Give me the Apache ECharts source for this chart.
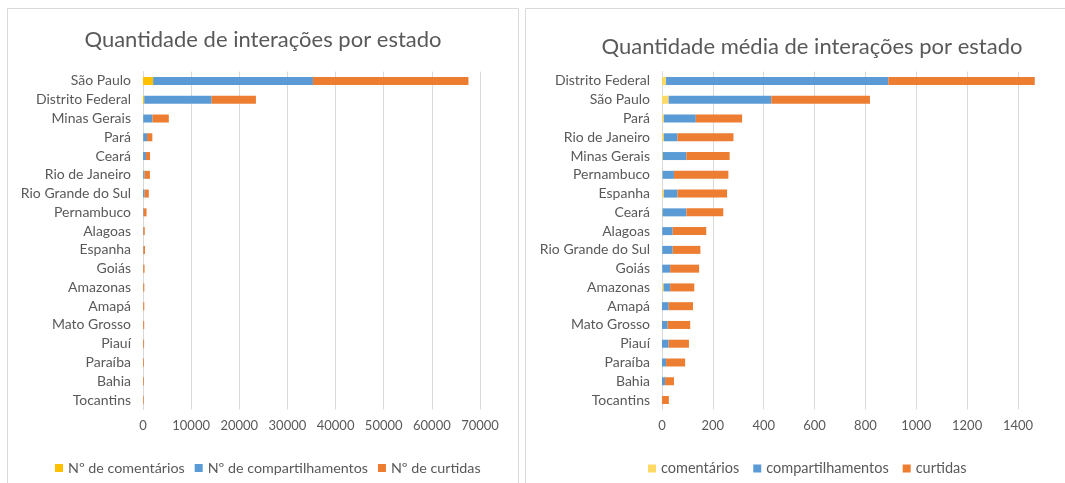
<!DOCTYPE html>
<html><head><meta charset="utf-8">
<script src="https://cdn.jsdelivr.net/npm/echarts@6/dist/echarts.min.js"></script>
<style>html,body{margin:0;padding:0;background:#fff}#c{width:1065px;height:483px}</style>
</head><body><div id="c"></div>
<script>
// Left chart: total interactions per state
const statesTotal = ['São Paulo','Distrito Federal','Minas Gerais','Pará','Ceará','Rio de Janeiro','Rio Grande do Sul','Pernambuco','Alagoas','Espanha','Goiás','Amazonas','Amapá','Mato Grosso','Piauí','Paraíba','Bahia','Tocantins'];
const totalComentarios = [2100, 260, 60, 40, 15, 35, 8, 5, 2, 10, 2, 12, 0, 0, 0, 0, 0, 0];
const totalCompartilhamentos = [33200, 14000, 1900, 800, 600, 300, 330, 130, 82, 80, 70, 55, 55, 50, 55, 35, 50, 0];
const totalCurtidas = [32300, 9200, 3400, 1100, 850, 1100, 870, 600, 280, 320, 250, 210, 215, 200, 175, 170, 150, 140];
const totalTicks = [0, 10000, 20000, 30000, 40000, 50000, 60000, 70000];

// Right chart: average interactions per state
const statesMedia = ['Distrito Federal','São Paulo','Pará','Rio de Janeiro','Minas Gerais','Pernambuco','Espanha','Ceará','Alagoas','Rio Grande do Sul','Goiás','Amazonas','Amapá','Mato Grosso','Piauí','Paraíba','Bahia','Tocantins'];
const mediaComentarios = [16, 26, 7, 7, 3, 2, 7, 2, 1, 1, 1, 6, 0, 0, 0, 0, 0, 0];
const mediaCompartilhamentos = [874, 404, 126, 54, 93, 45, 54, 94, 41, 41, 31, 26, 26, 22, 26, 16, 12, 0];
const mediaCurtidas = [576, 388, 182, 220, 170, 214, 195, 145, 132, 109, 114, 95, 96, 89, 80, 75, 35, 27];
const mediaTicks = [0, 200, 400, 600, 800, 1000, 1200, 1400];

const FONT = 'Lato';
const TXT = '#595959';
const GRID = '#d9d9d9';

function catAxis(idx, data) {
  return {
    type: 'category', gridIndex: idx, data: data, inverse: true,
    axisLine: {show: true, lineStyle: {color: GRID}},
    axisTick: {show: false},
    axisLabel: {color: TXT, fontFamily: FONT, fontSize: 14, margin: 12}
  };
}
function valAxis(idx, max, interval, showMax) {
  return {
    type: 'value', gridIndex: idx, min: 0, max: max, interval: interval,
    axisLine: {show: false}, axisTick: {show: false},
    splitLine: {show: true, showMaxLine: showMax, lineStyle: {color: GRID, width: 1}},
    axisLabel: {color: TXT, fontFamily: FONT, fontSize: 13, margin: 10, showMaxLabel: showMax,
      formatter: function (v) { return String(v); }}
  };
}
function bar(name, idx, data, color) {
  return {
    type: 'bar', name: name, xAxisIndex: idx, yAxisIndex: idx, stack: 's' + idx,
    data: data, barWidth: 8, itemStyle: {color: color}, silent: true
  };
}

const chart = echarts.init(document.getElementById('c'), null, {renderer: 'canvas'});
chart.setOption({
  animation: false,
  backgroundColor: '#fff',
  graphic: [
    {type: 'rect', shape: {x: 7.5, y: 8.5, width: 511, height: 490}, style: {fill: 'none', stroke: GRID, lineWidth: 1}, z: -10},
    {type: 'rect', shape: {x: 525.5, y: 8.5, width: 600, height: 490}, style: {fill: 'none', stroke: GRID, lineWidth: 1}, z: -10}
  ],
  title: [
    {text: 'Quantidade de interações por estado', left: 258, top: 24, textAlign: 'center',
     textStyle: {color: TXT, fontFamily: FONT, fontSize: 22, fontWeight: 'normal'}},
    {text: 'Quantidade média de interações por estado', left: 807, top: 31, textAlign: 'center',
     textStyle: {color: TXT, fontFamily: FONT, fontSize: 22, fontWeight: 'normal'}}
  ],
  legend: [
    {left: 50, top: 456, itemWidth: 8, itemHeight: 8, itemGap: 10, icon: 'rect',
     textStyle: {color: TXT, fontFamily: FONT, fontSize: 14.3},
     data: ['Nº de comentários', 'Nº de compartilhamentos', 'Nº de curtidas']},
    {left: 643, top: 456, itemWidth: 8, itemHeight: 8, itemGap: 14, icon: 'rect',
     textStyle: {color: TXT, fontFamily: FONT, fontSize: 14.5},
     data: ['comentários', 'compartilhamentos', 'curtidas']}
  ],
  grid: [
    {left: 143, width: 337, top: 71.6, height: 337.8},
    {left: 662, width: 381.4, top: 71.6, height: 337.8}
  ],
  xAxis: [valAxis(0, totalTicks[totalTicks.length - 1], totalTicks[1] - totalTicks[0], true),
          valAxis(1, 1500, mediaTicks[1] - mediaTicks[0], false)],
  yAxis: [catAxis(0, statesTotal), catAxis(1, statesMedia)],
  series: [
    bar('Nº de comentários', 0, totalComentarios, '#FFC000'),
    bar('Nº de compartilhamentos', 0, totalCompartilhamentos, '#5B9BD5'),
    bar('Nº de curtidas', 0, totalCurtidas, '#ED7D31'),
    bar('comentários', 1, mediaComentarios, '#FFD966'),
    bar('compartilhamentos', 1, mediaCompartilhamentos, '#5B9BD5'),
    bar('curtidas', 1, mediaCurtidas, '#ED7D31')
  ]
});
</script></body></html>
